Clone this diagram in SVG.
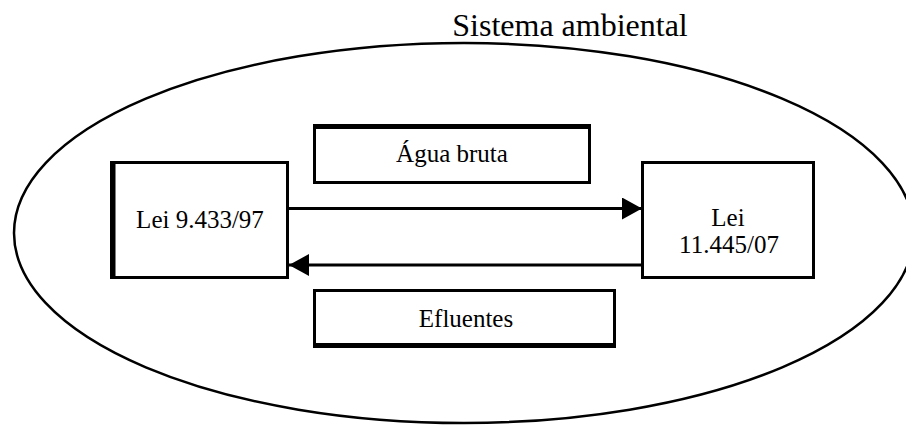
<svg xmlns="http://www.w3.org/2000/svg" width="906" height="425" viewBox="0 0 906 425">
  <style>
    .box { fill: #fff; stroke: #000; stroke-width: 3; }
    .thick { fill: #000; }
    .lbl { font-family: "Liberation Serif", "Times New Roman", serif; font-size: 25px; fill: #000; text-anchor: middle; }
    .title { font-family: "Liberation Serif", "Times New Roman", serif; font-size: 32px; fill: #000; text-anchor: middle; }
    .conn { stroke: #000; stroke-width: 3; fill: none; marker-end: url(#arr); }
  </style>
  <defs>
    <marker id="arr" markerUnits="userSpaceOnUse" markerWidth="20" markerHeight="22" refX="20" refY="11" orient="auto">
      <path d="M0,0 L20,11 L0,22 Z" fill="#000"/>
    </marker>
  </defs>
  <rect width="906" height="425" fill="#fff"/>
  <g id="sistema-ambiental">
    <ellipse cx="464" cy="233" rx="450" ry="190" fill="none" stroke="#000" stroke-width="2.5"/>
    <text class="title" x="570" y="36">Sistema ambiental</text>
  </g>
  <g id="lei-9433">
    <rect class="box" x="111.5" y="162.5" width="176" height="115"/>
    <rect class="thick" x="110" y="161" width="5.5" height="118"/>
    <text class="lbl" x="200" y="228">Lei 9.433/97</text>
  </g>
  <g id="agua-bruta">
    <rect class="box" x="314.5" y="125.5" width="275" height="57"/>
    <rect class="thick" x="313" y="124" width="278" height="5"/>
    <text class="lbl" x="452" y="162">Água bruta</text>
  </g>
  <g id="lei-11445">
    <rect class="box" x="642.5" y="162.5" width="171" height="115"/>
    <text class="lbl" x="728" y="226">Lei</text>
    <text class="lbl" x="729" y="253">11.445/07</text>
  </g>
  <g id="efluentes">
    <rect class="box" x="314.5" y="290.5" width="300" height="55"/>
    <rect class="thick" x="313" y="343" width="303" height="5"/>
    <text class="lbl" x="466" y="327">Efluentes</text>
  </g>
  <g id="connectors">
    <line class="conn" x1="289" y1="208.5" x2="642" y2="208.5"/>
    <line class="conn" x1="641" y1="265" x2="289" y2="265"/>
  </g>
</svg>
